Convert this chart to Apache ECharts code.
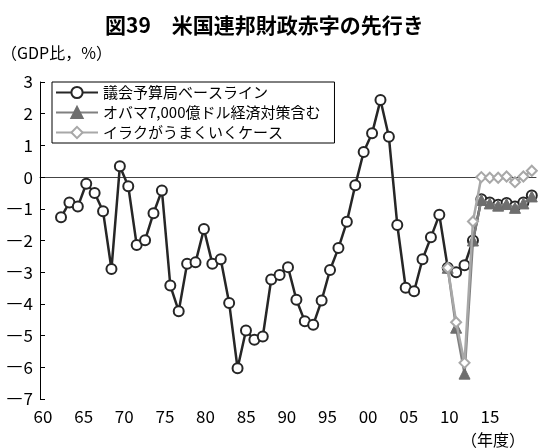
<!DOCTYPE html>
<html><head><meta charset="utf-8">
<script src="https://cdn.jsdelivr.net/npm/echarts@6/dist/echarts.min.js"></script>
<style>html,body{margin:0;padding:0;background:#fff}#c{width:538px;height:448px}</style>
</head><body><div id="c"></div>
<script>
const years = [];
for (let y = 1960; y <= 2018; y++) years.push(String(y));
const xTickLabels = ['60','65','70','75','80','85','90','95','00','05','10','15'];
const baseline = [null,null,
 -1.27,-0.80,-0.93,-0.21,-0.50,-1.08,-2.90,0.34,-0.29,-2.14,
 -1.99,-1.14,-0.42,-3.42,-4.23,-2.73,-2.69,-1.64,-2.73,-2.59,
 -3.97,-6.03,-4.84,-5.13,-5.03,-3.23,-3.09,-2.84,-3.87,-4.55,
 -4.66,-3.89,-2.93,-2.24,-1.41,-0.26,0.79,1.38,2.43,1.27,
 -1.51,-3.49,-3.60,-2.59,-1.90,-1.19,-2.86,-3.00,-2.78,-2.00,
 -0.70,-0.80,-0.87,-0.82,-0.93,-0.80,-0.58];
const obamaYears = ['2008','2009','2010','2011','2012','2013','2014','2015','2016','2017','2018'];
const obamaVals = [-2.86,-4.75,-6.20,-2.00,-0.72,-0.83,-0.90,-0.85,-0.97,-0.83,-0.61];
const iraqVals  = [-2.86,-4.58,-5.86,-1.40,0.00,-0.02,-0.02,0.02,-0.16,0.02,0.20];
const yTickLabels = ['－7','－6','－5','－4','－3','－2','－1','0','1','2','3'];
const seriesNames = ['議会予算局ベースライン','オバマ7,000億ドル経済対策含む','イラクがうまくいくケース'];

function expand(ys, vals){
  const out = years.map(()=>null);
  ys.forEach((y,i)=>{ out[years.indexOf(y)] = vals[i]; });
  return out;
}
function yLabel(v){
  const n = Math.round(Number(v));
  const s = yTickLabels[n + 7];
  return s.charAt(0) === '－' ? '{m|\u2014}{d|' + s.slice(1) + '}' : '{d|' + s + '}';
}
const FONT = '"Noto Sans CJK JP", sans-serif';
const chart = echarts.init(document.getElementById('c'), null, {renderer:'canvas'});
chart.setOption({
  animation:false,
  backgroundColor:'#fff',
  title:[
    {text:'図39　米国連邦財政赤字の先行き', left:100, top:10, textStyle:{fontFamily:FONT, fontSize:21, fontWeight:'bold', color:'#000'}},
    {text:'（GDP比，%）', left:-4, top:40, textStyle:{fontFamily:FONT, fontSize:16, fontWeight:'normal', color:'#000'}},
    {text:'（年度）', left:456, top:427, textStyle:{fontFamily:FONT, fontSize:16, fontWeight:'normal', color:'#000'}}
  ],
  legend:{
    orient:'vertical', left:52, top:82,
    backgroundColor:'#fff', borderColor:'#000', borderWidth:1,
    padding:[3,14,3,3], itemGap:5, itemWidth:42, itemHeight:14,
    textStyle:{fontFamily:FONT, fontSize:15, color:'#000'},
    data:seriesNames
  },
  grid:[
    {left:40, right:2, top:82, bottom:49},
    {left:43, right:48, top:82, bottom:49}
  ],
  xAxis:[
    {type:'category', gridIndex:0, data:years, boundaryGap:true,
     axisLine:{onZero:true, lineStyle:{color:'#444', width:1}},
     axisTick:{inside:true, length:5, interval:4, lineStyle:{color:'#444'}},
     axisLabel:{show:false}, splitLine:{show:false}},
    {type:'category', gridIndex:1, data:xTickLabels, boundaryGap:false, position:'bottom',
     axisLine:{show:false, onZero:false}, axisTick:{show:false},
     axisLabel:{interval:0, margin:9, fontFamily:FONT, fontSize:17, color:'#000'}, splitLine:{show:false}}
  ],
  yAxis:[
    {type:'value', gridIndex:0, min:-7, max:3, interval:1,
     axisLine:{show:true, lineStyle:{color:'#000'}},
     axisTick:{show:true, inside:true, length:5, lineStyle:{color:'#000'}},
     axisLabel:{show:true, margin:7, color:'#000', formatter:yLabel,
       rich:{m:{fontFamily:'"DejaVu Sans"', fontSize:16, color:'#000', padding:[0,1,0,0]},
             d:{fontFamily:FONT, fontSize:17, color:'#000'}}},
     splitLine:{show:false}},
    {type:'value', gridIndex:1, min:-7, max:3, show:false}
  ],
  series:[
    {name:seriesNames[0], type:'line', data:baseline, symbol:'circle', symbolSize:10, showAllSymbol:true,
     lineStyle:{color:'#262626', width:2.5}, itemStyle:{color:'#fff', borderColor:'#262626', borderWidth:2}, z:2},
    {name:seriesNames[1], type:'line', data:expand(obamaYears, obamaVals), symbol:'triangle', symbolSize:11, showAllSymbol:true,
     lineStyle:{color:'#808080', width:2.5}, itemStyle:{color:'#6e6e6e', borderColor:'#6e6e6e', borderWidth:1}, z:3},
    {name:seriesNames[2], type:'line', data:expand(obamaYears, iraqVals), symbol:'diamond', symbolSize:10, showAllSymbol:true,
     lineStyle:{color:'#a8a8a8', width:2.5}, itemStyle:{color:'#fff', borderColor:'#a8a8a8', borderWidth:2}, z:4}
  ]
});
</script></body></html>
